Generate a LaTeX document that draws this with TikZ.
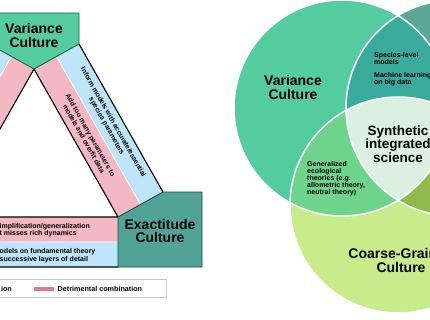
\documentclass[tikz,border=0pt]{standalone}
\usepackage{fontspec}
\setmainfont{Liberation Sans}
\usepackage{xcolor}
\usepackage{tikz}
\usetikzlibrary{arrows.meta,shapes}
\definecolor{varcol}{RGB}{85,203,160}
\definecolor{vardark}{RGB}{30,100,72}
\definecolor{exbox}{RGB}{80,163,150}
\definecolor{exdark}{RGB}{28,75,70}
\definecolor{pinkband}{RGB}{244,184,197}
\definecolor{blueband}{RGB}{189,228,248}
\definecolor{detpink}{RGB}{224,122,146}
\definecolor{legendgray}{RGB}{200,200,200}
\definecolor{excol}{RGB}{92,166,152}
\definecolor{vecol}{RGB}{58,170,157}
\definecolor{vccol}{RGB}{110,212,140}
\definecolor{eccol}{RGB}{145,185,75}
\definecolor{coacol}{RGB}{200,236,140}
\definecolor{midcol}{RGB}{220,240,226}
\begin{document}
\begin{tikzpicture}[x=1pt,y=-1pt,
bigtxt/.style={font=\fontsize{14}{13.5}\selectfont\bfseries,align=center,inner sep=0pt},
smalltxt/.style={font=\fontsize{7}{7}\selectfont\bfseries,align=left,inner sep=0pt},
bandtxt/.style={font=\fontsize{6.9}{7.6}\selectfont\bfseries,align=center,inner sep=0pt},
edge/.style={black,line width=1.1pt}]
\useasboundingbox(0,0)rectangle(430,320);
\clip(0,0)rectangle(430,320);
\fill[pinkband](34,69)--(118,217)--(140.5,204.5)--(56.5,56.5)--cycle;
\fill[blueband](56.5,56.5)--(140.5,204.5)--(163,192)--(79,44)--cycle;
\fill[pinkband](34,69)--(-50,217)--(-72.5,204.5)--(11.5,56.5)--cycle;
\fill[blueband](11.5,56.5)--(-72.5,204.5)--(-95,192)--(-11,44)--cycle;
\fill[pinkband](-120,217)rectangle(118,242);
\fill[blueband](-120,242)rectangle(118,267);
\draw[white,line width=0.8pt](56.5,56.5)--(140.5,204.5)
(11.5,56.5)--(-72.5,204.5)
(-120,242)--(118,242);
\draw[edge](79,44)--(163,192)
(34,69)--(118,217)
(34,69)--(-50,217)
(-11,44)--(-95,192)
(-50,217)--(118,217)
(-120,267)--(118,267);
\draw[fill=varcol,draw=vardark,line width=0.9pt](-11,13)--(79,13)--(79,44)--(34,69)--(-11,44)--cycle;
\node[bigtxt](varbox) at (34,35.5){Variance\\Culture};
\draw[fill=exbox,draw=exdark,line width=0.9pt](118,217)--(163,192)--(202,192)--(202,267)--(118,267)--cycle;
\node[bigtxt](exbox) at (160,231){Exactitude\\Culture};
\node[bandtxt,rotate=-60.4](inform) at (109.75,124.25){Inform models with accurate/essential\\species parameters};
\node[bandtxt,rotate=-60.4](overfit) at (87.25,136.75){Add too many parameters to\\models and overfit data};
\node[smalltxt,anchor=west](simpl) at (-0.5,230){implification/generalization\\t misses rich dynamics};
\node[smalltxt,anchor=west,font=\fontsize{7}{7.8}\selectfont\bfseries](fund) at (-0.5,256){odels on fundamental theory\\successive layers of detail};
\draw[draw=legendgray,fill=white,line width=0.7pt](-5,279)rectangle(166,297);
\node[smalltxt,anchor=east,font=\fontsize{7.2}{7.2}\selectfont\bfseries](benef) at (12,289){ion};
\draw[detpink,line width=3.5pt](34,289)--(54,289);
\node[smalltxt,anchor=west,font=\fontsize{7.2}{7.2}\selectfont\bfseries](detr) at (57.5,289){Detrimental combination};
\fill[varcol](342,108)circle(108);
\fill[excol](454,108)circle(108);
\fill[coacol](398,205)circle(108);
\begin{scope}
\clip(342,108)circle(108);
\fill[vecol](454,108)circle(108);
\fill[vccol](398,205)circle(108);
\end{scope}
\begin{scope}
\clip(454,108)circle(108);
\fill[eccol](398,205)circle(108);
\clip(342,108)circle(108);
\fill[midcol](398,205)circle(108);
\end{scope}
\draw[white,line width=1.5pt](342,108)circle(108)
(454,108)circle(108)
(398,205)circle(108);
\node[bigtxt](vartxt) at (293,87.5){Variance\\Culture};
\node[bigtxt,font=\fontsize{13.5}{12.5}\selectfont\bfseries](syn) at (398,144){Synthetic\\integrated\\science};
\node[bigtxt](coarse) at (401,260.5){Coarse-Grained\\Culture};
\node[smalltxt,anchor=west](species) at (374,58.5){Species-level\\models};
\node[smalltxt,anchor=west](ml) at (374,79.5){Machine learning\\on big data};
\node[smalltxt,anchor=west](gen) at (307,179){Generalized\\ecological\\theories (e.g.\\allometric theory,\\neutral theory)};
\end{tikzpicture}
\end{document}
